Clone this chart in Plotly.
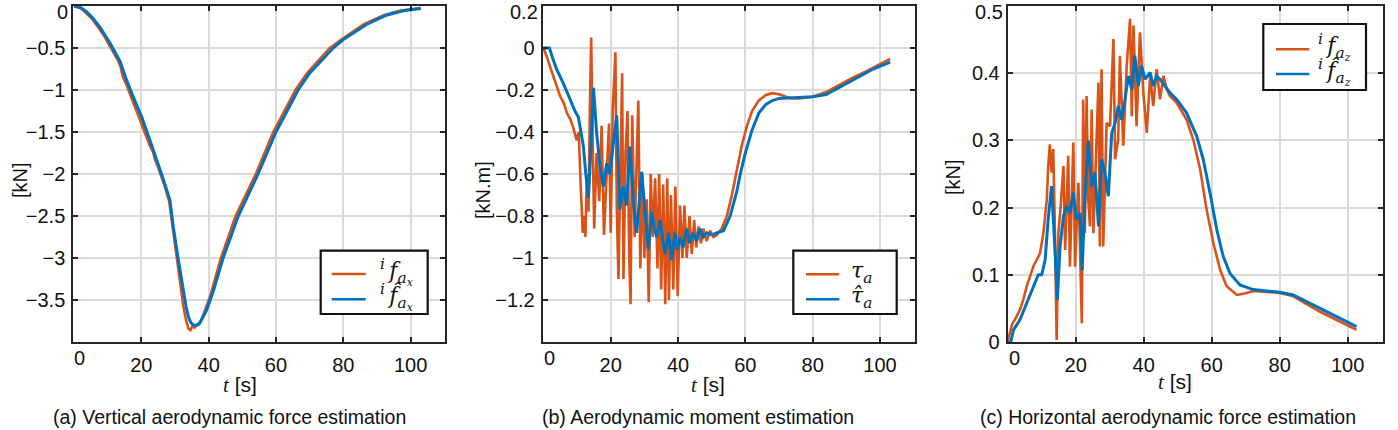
import plotly.graph_objects as go

W, H = 1398, 430

# ---------------- data ----------------
# (a) vertical aerodynamic force [kN]
t_fax = [0, 2, 3.5, 5.5, 7.5, 9, 10.5, 12, 13, 13.8, 14.5, 15.5, 16.3, 17, 18, 18.5, 19.5, 20, 21, 21.5,
         22.5, 23.5, 24, 25, 25.5, 26.5, 27, 28.3, 29.3, 30.5, 31.5, 32.5, 33.3, 34.0, 34.6, 35.2, 35.8,
         36.4, 37.2, 38, 40.5, 43.5, 48, 54, 59.2, 65.8, 69.2, 76, 79, 86, 92, 97, 103]
v_fax = [0, -0.025, -0.08, -0.16, -0.27, -0.36, -0.47, -0.58, -0.64, -0.72, -0.84, -0.93, -1.02, -1.08,
         -1.19, -1.24, -1.35, -1.40, -1.49, -1.56, -1.66, -1.74, -1.82, -1.92, -1.98, -2.08, -2.15, -2.33,
         -2.62, -3.00, -3.30, -3.58, -3.74, -3.84, -3.86, -3.81, -3.83, -3.80, -3.79, -3.72, -3.45, -3.02,
         -2.50, -2.00, -1.50, -1.00, -0.80, -0.50, -0.41, -0.22, -0.11, -0.055, -0.025]
t_fax_hat = [0, 2, 3.8, 5.5, 7.7, 10.7, 13.7, 15.6, 17.6, 20.1, 22.6, 24.6, 26.6, 28.5, 29.5, 31, 32.5,
             33.3, 34, 34.7, 35.5, 36.5, 37.4, 39.4, 41.5, 44.3, 48.8, 54.7, 60, 66.6, 70, 77, 80, 86.9,
             92.8, 97.8, 103]
v_fax_hat = [0, -0.02, -0.07, -0.14, -0.25, -0.44, -0.66, -0.88, -1.08, -1.32, -1.60, -1.83, -2.07, -2.31,
             -2.63, -3.02, -3.42, -3.58, -3.70, -3.77, -3.80, -3.80, -3.77, -3.62, -3.38, -3.00, -2.50,
             -2.00, -1.50, -1.00, -0.80, -0.50, -0.40, -0.22, -0.11, -0.056, -0.03]

# (b) aerodynamic moment [kN.m]
t_tau = [0, 1, 2, 3, 4, 5, 6, 7, 8, 8.9, 9.9, 10.5, 11.1, 11.7, 12.1, 12.5, 12.9, 13.4, 13.8, 14.2, 14.6,
         15.1, 15.8, 16.6, 17.3, 18.0, 18.8, 19.5, 20.0, 20.6, 21.4, 21.8, 22.3, 23.0, 23.4, 23.8, 24.4,
         25.0, 25.5, 25.9, 26.4, 27.1, 27.7, 28.2, 28.8, 29.4, 30.0, 30.7, 31.3, 31.9, 32.5, 33.2, 33.9,
         34.4, 35.0, 35.6, 36.2, 36.8, 37.3, 37.9, 38.6, 39.2, 39.9, 40.6, 41.3, 41.9, 42.6, 43.4, 44.1,
         44.8, 45.4, 46.1, 46.8, 47.5, 48.5, 49.5, 50.5, 51.5, 53, 54.5, 56, 57.5, 59, 60.5, 62, 64, 66, 68,
         70, 72, 74, 76, 80, 84, 88, 92, 96, 100, 103]
v_tau = [0, -0.04, -0.09, -0.14, -0.18, -0.23, -0.26, -0.31, -0.34, -0.38, -0.44, -0.40, -0.66, -0.88,
         -0.80, -0.90, -0.60, -0.78, -0.30, 0.05, -0.40, -0.86, -0.50, -0.73, -0.37, -0.89, -0.60, -0.36,
         -0.88, -0.30, -0.02, -0.75, -1.10, -0.40, -0.12, -1.10, -0.50, -0.30, -1.00, -1.22, -0.32, -0.90,
         -0.55, -0.25, -1.05, -0.60, -1.00, -0.72, -1.21, -0.60, -0.90, -0.62, -1.05, -0.60, -1.15, -0.65,
         -1.22, -0.62, -1.20, -0.70, -1.15, -0.66, -1.18, -0.75, -1.00, -0.75, -1.00, -0.80, -0.98, -0.82,
         -0.95, -0.85, -0.93, -0.86, -0.92, -0.87, -0.90, -0.89, -0.86, -0.80, -0.70, -0.58, -0.46, -0.37,
         -0.30, -0.25, -0.225, -0.215, -0.22, -0.232, -0.24, -0.24, -0.232, -0.21, -0.175, -0.14, -0.11,
         -0.075, -0.052]
t_tau_hat = [0, 1.8, 3, 3.9, 5.9, 7.9, 9.4, 10.4, 11.2, 11.9, 12.6, 13.4, 14.2, 14.9, 15.8, 16.8, 17.8,
             18.8, 19.7, 20.7, 21.8, 22.7, 23.7, 24.7, 25.7, 26.7, 27.7, 29.2, 30.2, 31.2, 32.2, 33.0, 33.7,
             34.7, 35.5, 36.2, 37.2, 38.1, 39.1, 39.8, 40.6, 41.5, 42.6, 43.5, 44.6, 45.5, 46.5, 47.5, 48.5,
             50, 51.5, 53.5, 55.5, 57.5, 58.5, 60, 62, 64, 66, 68, 70, 75, 80, 84, 90, 94, 98, 103]
v_tau_hat = [0, 0, -0.06, -0.10, -0.167, -0.246, -0.30, -0.33, -0.40, -0.47, -0.60, -0.714, -0.45, -0.19,
             -0.40, -0.56, -0.66, -0.55, -0.60, -0.47, -0.32, -0.77, -0.66, -0.75, -0.47, -0.72, -0.88, -0.59,
             -0.78, -0.96, -0.78, -0.86, -0.90, -0.82, -0.92, -0.98, -0.88, -1.01, -0.88, -0.96, -0.90, -0.95,
             -0.86, -0.93, -0.88, -0.92, -0.86, -0.90, -0.88, -0.89, -0.88, -0.87, -0.80, -0.68, -0.60, -0.50,
             -0.39, -0.31, -0.27, -0.25, -0.24, -0.235, -0.232, -0.222, -0.17, -0.135, -0.10, -0.067]

# (c) horizontal aerodynamic force [kN]
t_faz = [0, 1.2, 2.6, 3.6, 4.6, 5.6, 6.6, 7.5, 8.5, 9.5, 10.5, 11.5, 11.9, 12.4, 12.9, 13.4, 13.9, 14.4,
         14.9, 15.4, 16.4, 16.9, 17.8, 18.3, 19.3, 19.8, 20.8, 21.8, 22.2, 22.7, 23.2, 23.7, 24.2, 24.7,
         25.2, 25.7, 26.7, 27.1, 27.6, 28.1, 29.1, 30.1, 31.1, 31.6, 32.5, 33.0, 34.0, 35.0, 36.0, 36.5,
         37.0, 37.9, 38.9, 39.9, 40.9, 41.9, 42.8, 43.8, 44.8, 45.8, 46.8, 47.7, 49.7, 52.6, 54.6, 56.6,
         58.5, 60.5, 62.5, 64.4, 67.4, 70.3, 72.3, 80.1, 84.0, 91.9, 102.6]
v_faz = [0, 0.025, 0.038, 0.048, 0.063, 0.083, 0.098, 0.112, 0.122, 0.132, 0.162, 0.212, 0.26, 0.294,
         0.252, 0.287, 0.162, 0.003, 0.162, 0.19, 0.262, 0.137, 0.277, 0.112, 0.297, 0.112, 0.237, 0.028,
         0.361, 0.162, 0.366, 0.212, 0.172, 0.346, 0.162, 0.232, 0.386, 0.142, 0.406, 0.142, 0.326, 0.321,
         0.451, 0.272, 0.301, 0.426, 0.292, 0.411, 0.481, 0.336, 0.471, 0.321, 0.461, 0.371, 0.311, 0.396,
         0.351, 0.406, 0.361, 0.396, 0.376, 0.366, 0.356, 0.331, 0.301, 0.257, 0.197, 0.147, 0.107, 0.083,
         0.070, 0.073, 0.076, 0.073, 0.068, 0.045, 0.018]
t_faz_hat = [0, 0.9, 1.7, 3.6, 5.6, 7.5, 9.0, 10.0, 11.0, 11.9, 12.9, 13.9, 14.6, 15.4, 16.4, 17.3, 18.3,
             19.3, 20.3, 21.3, 21.9, 22.7, 23.7, 24.7, 25.7, 26.7, 27.6, 28.6, 29.6, 30.6, 31.6, 32.5, 33.5,
             34.5, 35.5, 36.5, 37.4, 38.4, 39.4, 40.4, 41.9, 42.8, 43.8, 44.8, 46.3, 47.7, 49.7, 52.6, 55.6,
             57.5, 59.5, 61.5, 63.4, 65.4, 68.3, 72.2, 80.1, 84.0, 91.9, 102.6]
v_faz_hat = [0, 0, 0.018, 0.033, 0.058, 0.083, 0.10, 0.10, 0.122, 0.182, 0.232, 0.137, 0.063, 0.142, 0.187,
             0.202, 0.192, 0.222, 0.182, 0.192, 0.107, 0.212, 0.30, 0.232, 0.252, 0.172, 0.272, 0.252, 0.217,
             0.311, 0.326, 0.351, 0.331, 0.361, 0.396, 0.376, 0.426, 0.381, 0.411, 0.391, 0.401, 0.381, 0.396,
             0.391, 0.381, 0.371, 0.361, 0.341, 0.306, 0.272, 0.222, 0.167, 0.127, 0.102, 0.085, 0.078, 0.074,
             0.070, 0.050, 0.023]

x_ticks = [0, 20, 40, 60, 80, 100]
y_ticks_a = [0, -0.5, -1, -1.5, -2, -2.5, -3, -3.5]
y_ticks_b = [0.2, 0, -0.2, -0.4, -0.6, -0.8, -1, -1.2]
y_ticks_c = [0, 0.1, 0.2, 0.3, 0.4, 0.5]

names_a = ["<sup><i>i</i></sup>\u2009<i>f</i><sub><i>a</i><sub><i>x</i></sub></sub>",
           "<sup><i>i</i></sup>\u2009<i>f\u0302</i><sub><i>a</i><sub><i>x</i></sub></sub>"]
names_b = ["<i>\u03c4</i><sub><i>a</i></sub>", "<i>\u03c4\u0302</i><sub><i>a</i></sub>"]
names_c = ["<sup><i>i</i></sup>\u2009<i>f</i><sub><i>a</i><sub><i>z</i></sub></sub>",
           "<sup><i>i</i></sup>\u2009<i>f\u0302</i><sub><i>a</i><sub><i>z</i></sub></sub>"]

ORANGE = "#D95319"
BLUE = "#0072BD"
AX = "#262626"
TXT = "#111111"
SANS = "Liberation Sans, Arial, sans-serif"
SERIF = "DejaVu Serif, Liberation Serif, serif"


def fmt(v):
    return ("%g" % v).replace("-", "\u2212")


def px_x(x):
    return x / W


def px_y(y):
    return 1 - y / H


fig = go.Figure()

panels = [(t_fax, v_fax, t_fax_hat, v_fax_hat, names_a),
          (t_tau, v_tau, t_tau_hat, v_tau_hat, names_b),
          (t_faz, v_faz, t_faz_hat, v_faz_hat, names_c)]

for k, (tx, vx, th, vh, nm) in enumerate(panels):
    sfx = "" if k == 0 else str(k + 1)
    fig.add_trace(go.Scatter(x=tx, y=vx, mode="lines", name=nm[0], line=dict(color=ORANGE, width=2.6),
                             xaxis="x" + sfx, yaxis="y" + sfx, showlegend=False))
    fig.add_trace(go.Scatter(x=th, y=vh, mode="lines", name=nm[1], line=dict(color=BLUE, width=3),
                             xaxis="x" + sfx, yaxis="y" + sfx, showlegend=False))

common = dict(showline=True, linecolor=AX, linewidth=2, mirror="ticks", ticks="inside", ticklen=5,
              tickwidth=2, tickcolor=AX, showgrid=True, gridcolor="#dadada", gridwidth=2, zeroline=False,
              automargin=False, tickfont=dict(family=SANS, size=20, color=TXT))

# plot-area pixel boxes (left, right) and common top/bottom
xdoms = [(73.3, 445.3), (542.7, 915.0), (1007.7, 1382.7)]
TOP, BOT = 6, 342
xranges = [[-0.2, 110.3], [-0.2, 110.4], [0, 110.3]]
yranges = [[-4, 0], [-1.4, 0.2], [0, 0.5]]
yticks = [y_ticks_a, y_ticks_b, y_ticks_c]

layout = dict(width=W, height=H, margin=dict(l=0, r=0, t=0, b=0, autoexpand=False),
              paper_bgcolor="white", plot_bgcolor="white", showlegend=False)
annotations = []
shapes = []
for k in range(3):
    sfx = "" if k == 0 else str(k + 1)
    xt = ["" if v == 0 else fmt(v) for v in x_ticks]
    yt_top = max(yticks[k])
    ytxt = ["" if v == yt_top else fmt(v) for v in yticks[k]]
    layout["xaxis" + sfx] = dict(common, domain=[px_x(xdoms[k][0]), px_x(xdoms[k][1])], range=xranges[k],
                                 tickvals=x_ticks, ticktext=xt, anchor="y" + sfx, ticklabelstandoff=4)
    layout["yaxis" + sfx] = dict(common, domain=[px_y(BOT), px_y(TOP)], range=yranges[k],
                                 tickvals=yticks[k], ticktext=ytxt, anchor="x" + sfx,
                                 ticklabelstandoff=2)
    # end tick labels nudged inward, as in the reference
    annotations.append(dict(text=fmt(0), x=px_x(xdoms[k][0] + 6.5), y=px_y(358), xref="paper",
                            yref="paper", showarrow=False, xanchor="center", yanchor="middle",
                            font=dict(family=SANS, size=20, color=TXT)))
    annotations.append(dict(text=fmt(yt_top), x=px_x(xdoms[k][0] - 4), y=px_y(12), xref="paper",
                            yref="paper", showarrow=False, xanchor="right", yanchor="middle",
                            borderpad=0, font=dict(family=SANS, size=20, color=TXT)))

# legends (box, key lines, labels)
legends = [((320.7, 427.7, 250.7, 314), (331.7, 365.7), (274, 299.3), 378, names_a),
           ((793.3, 896.7, 250.7, 314), (806, 839.3), (274.3, 299.3), 849, names_b),
           ((1263.3, 1366, 24, 90), (1276, 1309.3), (49.3, 74), 1316, names_c)]
for (x0, x1, y0, y1), (lx0, lx1), (ly1, ly2), tx, nm in legends:
    shapes.append(dict(type="rect", xref="paper", yref="paper", x0=px_x(x0), x1=px_x(x1), y0=px_y(y1),
                       y1=px_y(y0), fillcolor="white", line=dict(color=TXT, width=2.2), layer="above"))
    for ly, col, name in ((ly1, ORANGE, nm[0]), (ly2, BLUE, nm[1])):
        shapes.append(dict(type="line", xref="paper", yref="paper", x0=px_x(lx0), x1=px_x(lx1),
                           y0=px_y(ly), y1=px_y(ly), line=dict(color=col, width=2.6), layer="above"))
        annotations.append(dict(text=name, x=px_x(tx), y=px_y(ly - 2), xref="paper", yref="paper",
                                showarrow=False, xanchor="left", yanchor="middle",
                                font=dict(family=SERIF, size=22, color=TXT)))

tlab = '<span style="font-family:Liberation Serif"><i>t</i></span> [s]'
ann = [("[kN]", 20, 180, -90, 20), ("[kN.m]", 483, 190, -90, 20), ("[kN]", 953, 177, -90, 20),
       (tlab, 240, 385, 0, 21), (tlab, 708, 385, 0, 21), (tlab, 1175, 382, 0, 21)]
for text, x, y, ang, sz in ann:
    annotations.append(dict(text=text, x=px_x(x), y=px_y(y), textangle=ang, xref="paper", yref="paper",
                            showarrow=False, xanchor="center", yanchor="middle",
                            font=dict(family=SANS, size=sz, color=TXT)))
caps = [("(a) Vertical aerodynamic force estimation", 229.5),
        ("(b) Aerodynamic moment estimation", 698),
        ("(c) Horizontal aerodynamic force estimation", 1168)]
for text, cx in caps:
    annotations.append(dict(text=text, x=px_x(cx), y=px_y(417), xref="paper", yref="paper",
                            showarrow=False, xanchor="center", yanchor="middle",
                            font=dict(family=SANS, size=19.5, color=TXT)))
layout["annotations"] = annotations
layout["shapes"] = shapes

fig.update_layout(**layout)
fig.write_html("out.html", config={"displayModeBar": False},
               post_script="document.body.style.margin='0px';document.body.style.overflow='hidden';")
